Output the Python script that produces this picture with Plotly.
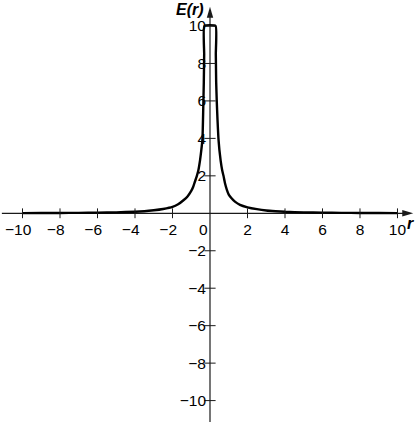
import plotly.graph_objects as go

# ---- data ----
r_left = [-10, -9, -8, -7, -6, -5, -4, -3.5, -3, -2.5, -2, -1.7, -1.4, -1.2, -1.0,
          -0.9, -0.8, -0.7, -0.62, -0.53, -0.46, -0.40, -0.36, -0.33, -0.31, -0.30]
E_left = [0.01, 0.014, 0.018, 0.025, 0.035, 0.05, 0.085, 0.11, 0.16, 0.23, 0.34, 0.48,
          0.71, 0.9, 1.2, 1.4, 1.7, 2.0, 2.3, 2.84, 3.4, 4.0, 5.6, 7.0, 8.5, 10]
r_right = [0.30, 0.31, 0.33, 0.36, 0.40, 0.45, 0.50, 0.57, 0.65, 0.72, 0.80, 0.90, 1.0,
           1.15, 1.33, 1.6, 2.0, 2.5, 3.0, 3.5, 4.0, 5.0, 6.0, 7.0, 8.0, 9.0, 10.0]
E_right = [10, 8.5, 7, 6.0, 5.0, 4.0, 3.4, 2.8, 2.3, 2.0, 1.6, 1.25, 1.0,
           0.8, 0.62, 0.45, 0.32, 0.22, 0.15, 0.11, 0.08, 0.05, 0.035, 0.025, 0.018, 0.014, 0.01]

tick_vals = [-10, -8, -6, -4, -2, 2, 4, 6, 8, 10]
x_ticktext = ["\u221210\u2007", "\u22128\u2007", "\u22126\u2007", "\u22124\u2007", "\u22122\u2007",
              "2", "4", "6", "8", "10"]
y_ticktext = ["\u221210", "\u22128", "\u22126", "\u22124", "\u22122", "2", "4", "6", "8", "10"]

x_range = [-11.2, 11.147]
y_range = [-11.143, 11.388]

FONT = "Liberation Sans, Arial, sans-serif"
AXC = "#1a1a1a"
FS = 15.5

fig = go.Figure()

# curve (with flat top at the cap)
fig.add_trace(go.Scatter(
    x=r_left + r_right, y=E_left + E_right, mode="lines",
    line=dict(color="black", width=2.4, shape="spline", smoothing=0.4),
    hoverinfo="skip", showlegend=False))

# tick marks crossing the axes
fig.add_trace(go.Scatter(
    x=tick_vals, y=[0] * len(tick_vals), mode="markers",
    marker=dict(symbol="line-ns", size=7, line=dict(width=1, color=AXC)),
    hoverinfo="skip", showlegend=False))
fig.add_trace(go.Scatter(
    x=[0] * len(tick_vals), y=tick_vals, mode="markers",
    marker=dict(symbol="line-ew", size=8, line=dict(width=1, color=AXC)),
    hoverinfo="skip", showlegend=False))

# axis lines
fig.add_shape(type="line", x0=0, x1=0, y0=y_range[0], y1=10.5,
              line=dict(color=AXC, width=1.2), layer="below")
fig.add_shape(type="line", x0=-11.1, x1=10.5, y0=0, y1=0,
              line=dict(color=AXC, width=1.2), layer="below")
# arrowheads
fig.add_shape(type="path", xsizemode="pixel", ysizemode="pixel", xanchor=0, yanchor=11.03,
              path="M-3.2,-11 L3.2,-11 L0,0 Z", fillcolor=AXC, line=dict(width=0))
fig.add_shape(type="path", xsizemode="pixel", ysizemode="pixel", xanchor=10.84, yanchor=0,
              path="M-11,-3.2 L-11,3.2 L0,0 Z", fillcolor=AXC, line=dict(width=0))

# labels
fig.add_annotation(x=-1.09, y=10.9, text="<b><i>E(r)</i></b>", showarrow=False,
                   font=dict(family=FONT, size=16, color="black"))
fig.add_annotation(x=10.72, y=-0.52, text="<b><i>r</i></b>", showarrow=False,
                   font=dict(family=FONT, size=16, color="black"))
fig.add_annotation(x=-0.37, y=-0.89, text="0", showarrow=False,
                   font=dict(family=FONT, size=FS, color="black"))

fig.update_layout(
    width=419, height=422, margin=dict(l=0, r=0, t=0, b=0),
    paper_bgcolor="white", plot_bgcolor="white",
    xaxis=dict(range=x_range, showgrid=False, zeroline=False, showline=False,
               anchor="free", position=(422 - 213.3) / 422,
               tickmode="array", tickvals=tick_vals, ticktext=x_ticktext,
               ticks="", ticklabelstandoff=5,
               tickfont=dict(family=FONT, size=FS, color="black"), fixedrange=True),
    yaxis=dict(range=y_range, showgrid=False, zeroline=False, showline=False,
               anchor="free", position=210 / 419,
               tickmode="array", tickvals=tick_vals, ticktext=y_ticktext,
               ticks="", ticklabelstandoff=4,
               tickfont=dict(family=FONT, size=FS, color="black"), fixedrange=True),
    showlegend=False,
)

fig.write_html("out.html", post_script="document.body.style.margin='0';",
               config={"displayModeBar": False})
